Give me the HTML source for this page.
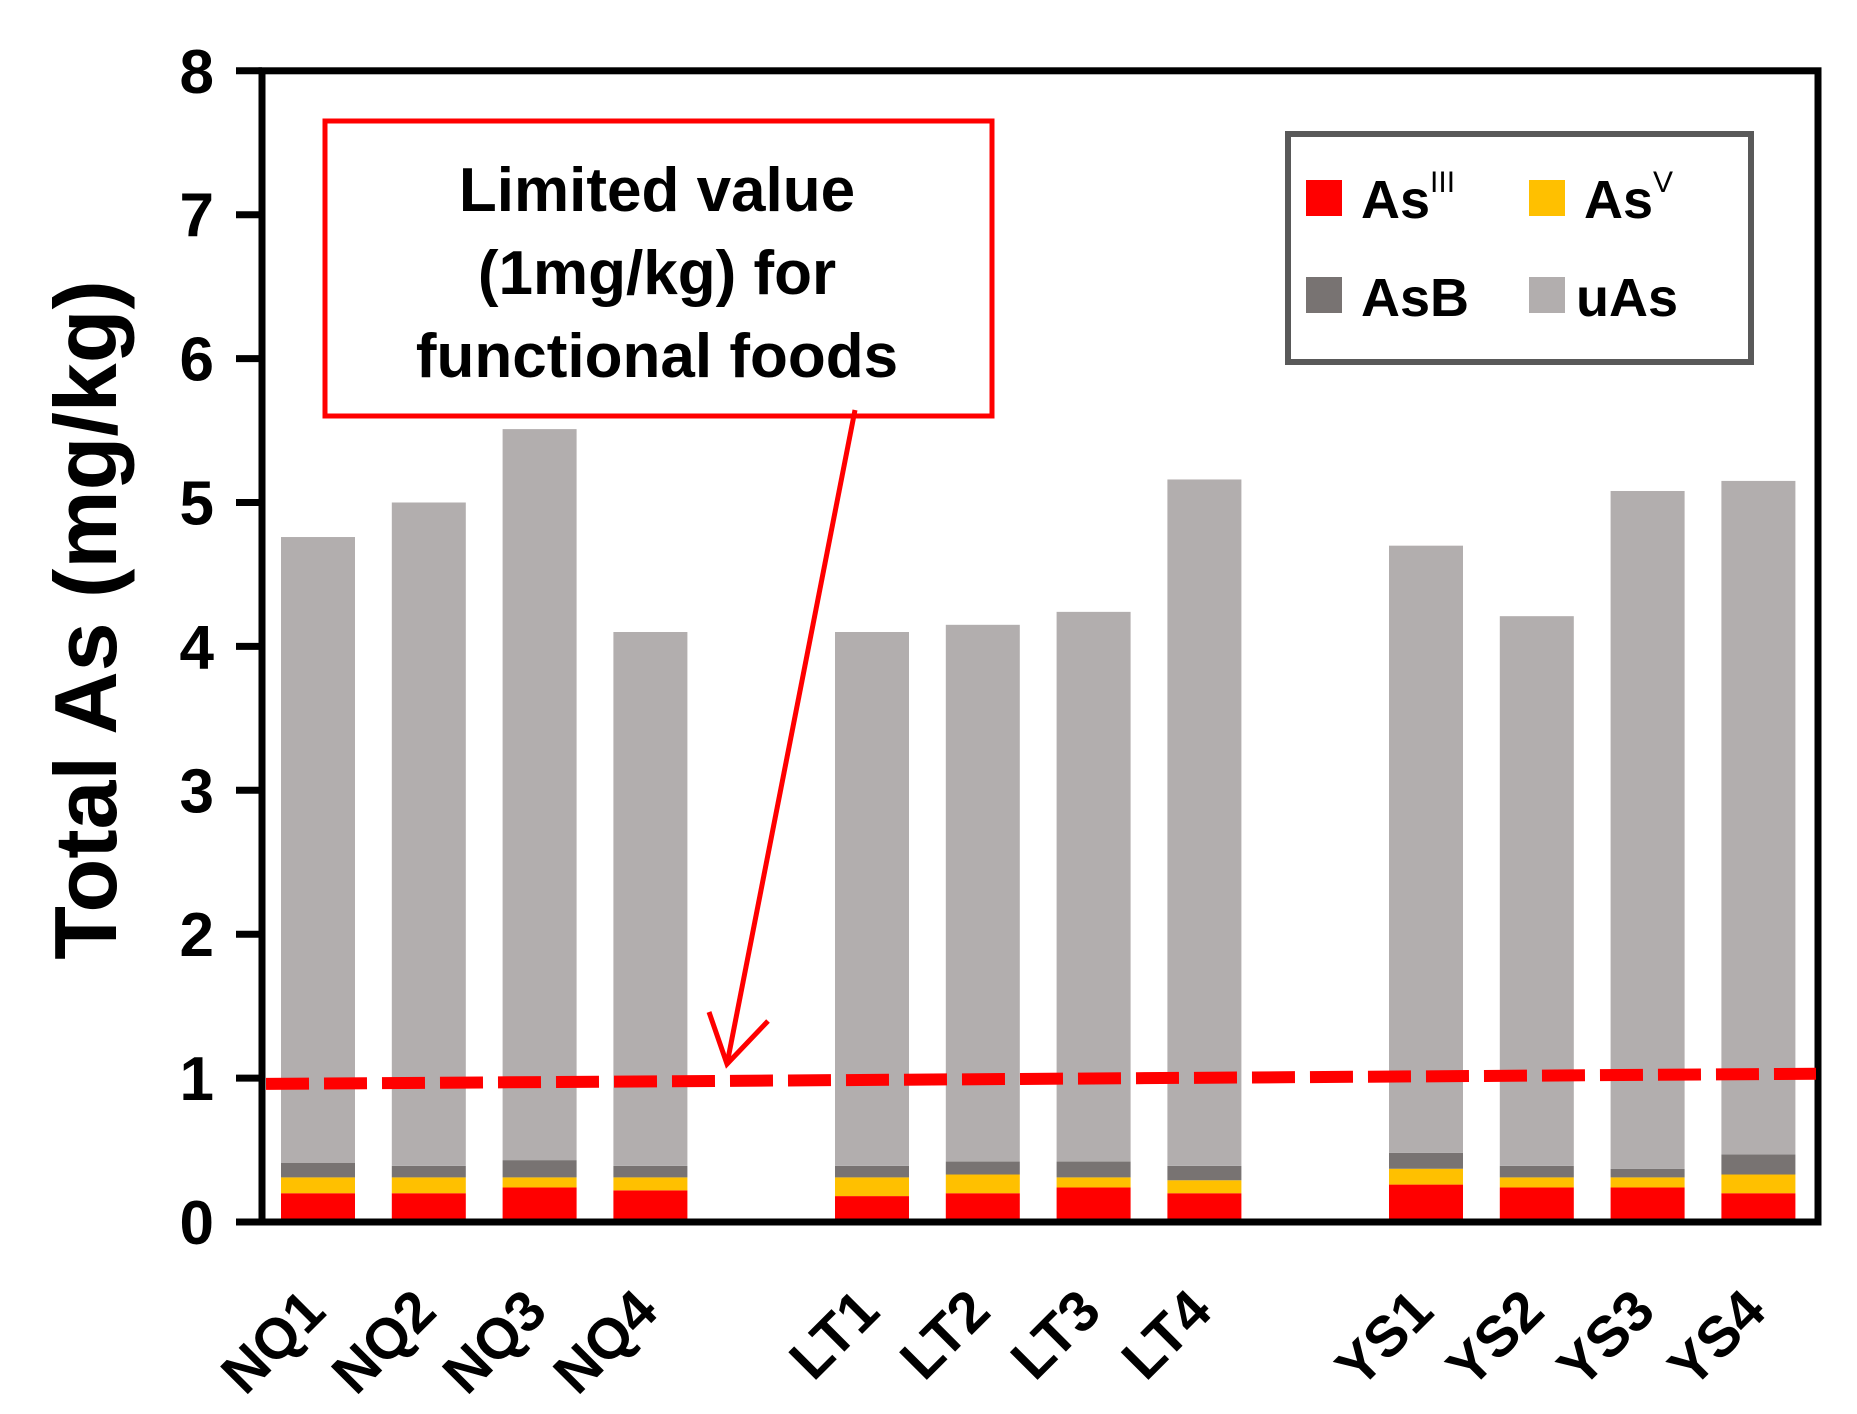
<!DOCTYPE html>
<html><head><meta charset="utf-8"><style>
html,body{margin:0;padding:0;background:#fff;}
svg{display:block;font-family:"Liberation Sans",Arial,sans-serif;font-weight:bold;}
</style></head><body>
<svg id="chart" width="1857" height="1414" viewBox="0 0 1857 1414">
<g id="bars"></g>
<g id="axes"></g>
<g id="xlabels"></g>
<g id="ylabels"></g>
<g id="limit"></g>
<text transform="translate(116,620) rotate(-90)" text-anchor="middle" font-size="88" fill="#000">Total As (mg/kg)</text>
<g>
<rect x="325" y="121" width="667" height="295" fill="#fff" stroke="#ff0000" stroke-width="5"/>
<text x="657" y="211" text-anchor="middle" font-size="62">Limited value</text>
<text x="657" y="294" text-anchor="middle" font-size="62">(1mg/kg) for</text>
<text x="657" y="377" text-anchor="middle" font-size="62">functional foods</text>
</g>
<g stroke="#ff0000" stroke-width="5" fill="none">
<line x1="855" y1="410" x2="727" y2="1064"/>
<polyline points="709,1012 727,1064 768,1021"/>
</g>
<g transform="translate(-7,0)">
<rect x="1295" y="134" width="463" height="228" fill="#fff" stroke="#595959" stroke-width="6"/>
<rect x="1313" y="180" width="36" height="36" fill="#ff0000"/>
<text x="1368" y="218" font-size="54">As<tspan font-size="30" font-weight="normal" dy="-26">III</tspan></text>
<rect x="1536" y="180" width="36" height="36" fill="#ffc000"/>
<text x="1591" y="218" font-size="54">As<tspan font-size="30" font-weight="normal" dy="-26">V</tspan></text>
<rect x="1313" y="277" width="36" height="36" fill="#787372"/>
<text x="1368" y="316" font-size="54">AsB</text>
<rect x="1536" y="277" width="36" height="36" fill="#b2aeae"/>
<text x="1583" y="316" font-size="54">uAs</text>
</g>
</svg>
<script>
var categories=["NQ1","NQ2","NQ3","NQ4","LT1","LT2","LT3","LT4","YS1","YS2","YS3","YS4"];
var slots=[0,1,2,3,5,6,7,8,10,11,12,13];
var asIII=[0.20,0.20,0.24,0.22,0.18,0.20,0.24,0.20,0.26,0.24,0.24,0.20];
var asV=[0.11,0.11,0.07,0.09,0.13,0.13,0.07,0.09,0.11,0.07,0.07,0.13];
var asB=[0.10,0.08,0.12,0.08,0.08,0.09,0.11,0.10,0.11,0.08,0.06,0.14];
var totals=[4.76,5.00,5.51,4.10,4.10,4.15,4.24,5.16,4.70,4.21,5.08,5.15];
var yTicks=["0","1","2","3","4","5","6","7","8"];
var limitStart=0.96, limitEnd=1.03;
var NS="http://www.w3.org/2000/svg";
function y(v){return 1222-v*143.9;}
function xc(s){return 318+s*110.8;}
var bw=74;
function mk(tag,attrs,parent){var e=document.createElementNS(NS,tag);for(var k in attrs)e.setAttribute(k,attrs[k]);parent.appendChild(e);return e;}
var gb=document.getElementById('bars');
var colors=["#ff0000","#ffc000","#787372","#b2aeae"];
var names=["asiii","asv","asb","uas"];
for(var i=0;i<categories.length;i++){
  var base=0;
  var uas=totals[i]-asIII[i]-asV[i]-asB[i];
  var vals=[asIII[i],asV[i],asB[i],uas];
  for(var j=0;j<4;j++){
    var r=mk('rect',{x:xc(slots[i])-bw/2,y:y(base+vals[j]),width:bw,height:y(base)-y(base+vals[j]),fill:colors[j]},gb);
    
    
    base+=vals[j];
  }
}
var ga=document.getElementById('axes');
var f=mk('rect',{x:262,y:y(8),width:1556,height:y(0)-y(8),fill:'none',stroke:'#000','stroke-width':7},ga);


var gy=document.getElementById('ylabels');
for(var t=0;t<yTicks.length;t++){
  var tk=mk('line',{x1:236,x2:262,y1:y(t),y2:y(t),stroke:'#000','stroke-width':7},ga);
  
  
  var tl=mk('text',{x:214,y:y(t)+22,'text-anchor':'end','font-size':62},gy);
  tl.textContent=yTicks[t];
  
  
}
var gx=document.getElementById('xlabels');
for(var i=0;i<categories.length;i++){
  var cx=xc(slots[i])+10, cy=1314;
  var xl=mk('text',{x:cx,y:cy,'text-anchor':'end','font-size':57,transform:'rotate(-45 '+cx+' '+cy+')'},gx);
  xl.textContent=categories[i];
  
  
}
var gl=document.getElementById('limit');
var ll=mk('line',{x1:266,x2:1816,y1:y(limitStart),y2:y(limitEnd),stroke:'#ff0000','stroke-width':12,'stroke-dasharray':'43 15'},gl);


</script>
</body></html>
